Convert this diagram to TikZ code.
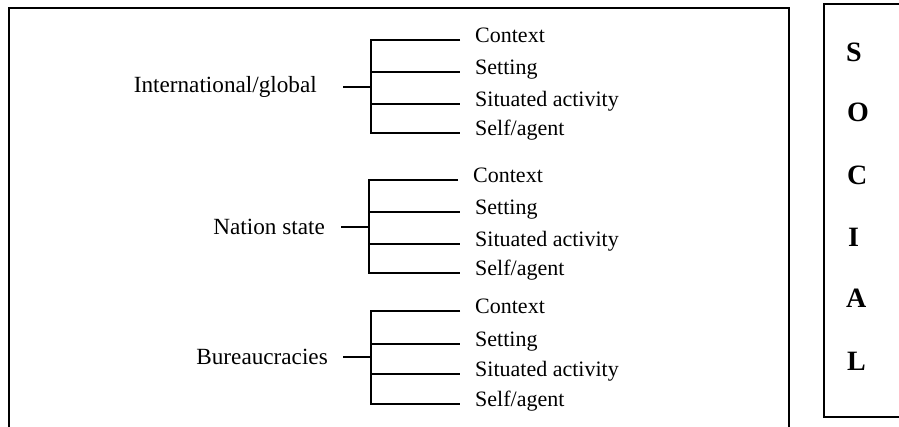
\documentclass[tikz,border=0pt]{standalone}
\usepackage{fontspec}
\setmainfont{Liberation Serif}

\begin{document}
\begin{tikzpicture}[x=1pt,y=-1pt]
\tikzstyle{cat}=[anchor=east,inner sep=0pt,font=\fontsize{23.2}{27}\selectfont]
\tikzstyle{item}=[anchor=west,inner xsep=15pt,inner ysep=0pt,text height=1.5ex,text depth=.4ex,font=\fontsize{22}{26}\selectfont]
\tikzstyle{letter}=[anchor=west,inner sep=0pt,font=\fontsize{28}{32}\selectfont\bfseries]
\tikzstyle{line}=[line width=1.1pt]
\tikzstyle{frame}=[line width=1.6pt]
\useasboundingbox (0,0) rectangle (899,427);
\clip (0,0) rectangle (899,427);
% frames
\draw[frame] (9,440) -- (9,8) -- (789,8) -- (789,440);
\draw[frame] (910,4) -- (824,4) -- (824,417) -- (910,417);
% international/global
\node[cat] (IG) at (317,87) {International/global};
\coordinate (IGj) at (371,87);
\coordinate (IGa) at (371,40);
\coordinate (IGb) at (371,72);
\coordinate (IGc) at (371,104);
\coordinate (IGd) at (371,133);
\node[item] (IG1) at (460,40) {Context};
\node[item] (IG2) at (460,72) {Setting};
\node[item] (IG3) at (460,104) {Situated activity};
\node[item] (IG4) at (460,133) {Self/agent};
\draw[line,line width=1.6pt] ([xshift=26pt]IG.east) -- (IGj);
\draw[line] (IG1) -- (IGa) -- (IGd) -- (IG4);
\draw[line] (IGb) -- (IG2);
\draw[line] (IGc) -- (IG3);
% nation state
\node[cat] (NS) at (325,227) {Nation state};
\coordinate (NSj) at (369,227);
\coordinate (NSa) at (369,180);
\coordinate (NSb) at (369,212);
\coordinate (NSc) at (369,244);
\coordinate (NSd) at (369,273);
\node[item] (NS1) at (458,180) {Context};
\node[item] (NS2) at (460,212) {Setting};
\node[item] (NS3) at (460,244) {Situated activity};
\node[item] (NS4) at (460,273) {Self/agent};
\draw[line] ([xshift=16pt]NS.east) -- (NSj);
\draw[line] (NS1) -- (NSa) -- (NSd) -- (NS4);
\draw[line] (NSb) -- (NS2);
\draw[line,line width=1.6pt] (NSc) -- (NS3);
% bureaucracies
\node[cat] (BU) at (328,357) {Bureaucracies};
\coordinate (BUj) at (371,357);
\coordinate (BUa) at (371,311);
\coordinate (BUb) at (371,344);
\coordinate (BUc) at (371,374);
\coordinate (BUd) at (371,404);
\node[item] (BU1) at (460,311) {Context};
\node[item] (BU2) at (460,344) {Setting};
\node[item] (BU3) at (460,374) {Situated activity};
\node[item] (BU4) at (460,404) {Self/agent};
\draw[line,line width=1.6pt] ([xshift=15pt]BU.east) -- (BUj);
\draw[line] (BU1) -- (BUa) -- (BUd) -- (BU4);
\draw[line] (BUb) -- (BU2);
\draw[line,line width=1.6pt] (BUc) -- (BU3);
% social
\node[letter] (S) at (846,52) {S};
\node[letter] (O) at (847,112) {O};
\node[letter] (C) at (847,175) {C};
\node[letter] (I) at (848,237) {I};
\node[letter] (A) at (846,298) {A};
\node[letter] (L) at (847,361) {L};
\end{tikzpicture}
\end{document}
